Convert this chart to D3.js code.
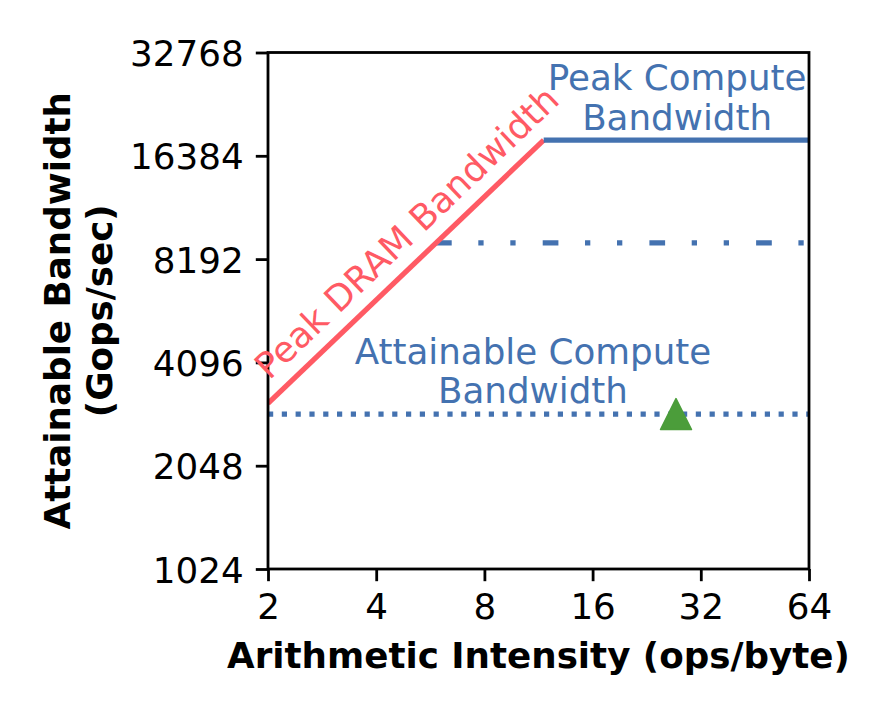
<!DOCTYPE html>
<html>
<head>
<meta charset="utf-8">
<script src="https://cdn.jsdelivr.net/npm/d3@7"></script>
<style>
  body { margin: 0; background: #fff; }
  svg { display: block; font-family: "DejaVu Sans", sans-serif; }
</style>
</head>
<body>
<svg id="chart"></svg>
<script>
// roofline values
const xTicks = [2, 4, 8, 16, 32, 64];
const yTicks = [1024, 2048, 4096, 8192, 16384, 32768];
const dramBandwidth = 1556;       // Gops/sec per (ops/byte)
const peakCompute = 18200;        // Gops/sec
const midCompute = 9130;          // dash-dot level
const attainableCompute = 2896;   // dotted level
const kernelPoint = [27.3, 2896]; // green triangle

const W = 871, H = 718;
const margin = { top: 52.5, right: 62, bottom: 149, left: 268 };
const FS = 35.7;
const red = "#ff5a64", blue = "#4472b0", green = "#4b9d3a";

const svg = d3.select("#chart").attr("width", W).attr("height", H);

const x = d3.scaleLog().base(2).domain([2, 64]).range([margin.left, W - margin.right]);
const y = d3.scaleLog().base(2).domain([1024, 32768]).range([H - margin.bottom, margin.top]);

svg.append("clipPath").attr("id", "plot-clip")
  .append("rect")
  .attr("x", x(2)).attr("y", y(32768))
  .attr("width", x(64) - x(2)).attr("height", y(1024) - y(32768));

const plot = svg.append("g").attr("clip-path", "url(#plot-clip)");
const line = d3.line().x(d => x(d[0])).y(d => y(d[1]));

const ridge = peakCompute / dramBandwidth;

// dotted attainable compute
plot.append("path")
  .attr("d", line([[2, attainableCompute], [64, attainableCompute]]))
  .attr("fill", "none").attr("stroke", blue).attr("stroke-width", 5.2)
  .attr("stroke-dasharray", "5.2 8.6");

// dash-dot-dot level, starting where the DRAM roof reaches it
plot.append("path")
  .attr("d", line([[midCompute / dramBandwidth, midCompute], [64, midCompute]]))
  .attr("fill", "none").attr("stroke", blue).attr("stroke-width", 5.2)
  .attr("stroke-dasharray", "15.7 26.6 5.3 26.7 5.3 27.1");

// DRAM roof
plot.append("path")
  .attr("d", line([[2, 2 * dramBandwidth], [ridge, peakCompute]]))
  .attr("fill", "none").attr("stroke", red).attr("stroke-width", 5.2);

// compute roof
plot.append("path")
  .attr("d", line([[ridge, peakCompute], [64, peakCompute]]))
  .attr("fill", "none").attr("stroke", blue).attr("stroke-width", 5.2);

// kernel marker
const tri = 15.5;
svg.append("path")
  .attr("transform", `translate(${x(kernelPoint[0])},${y(kernelPoint[1])})`)
  .attr("d", `M0,${-tri}L${tri},${tri}L${-tri},${tri}Z`)
  .attr("fill", green).attr("stroke", green).attr("stroke-width", 1.5)
  .attr("stroke-linejoin", "round");

// axes
const yAxis = d3.axisLeft(y).tickValues(yTicks).tickFormat(d3.format("d"))
  .tickSize(12.2).tickSizeOuter(0).tickPadding(12.2);
const xAxis = d3.axisBottom(x).tickValues(xTicks).tickFormat(d3.format("d"))
  .tickSize(12.2).tickSizeOuter(0).tickPadding(12.2);

const gy = svg.append("g").attr("transform", `translate(${margin.left},0)`).call(yAxis);
const gx = svg.append("g").attr("transform", `translate(0,${H - margin.bottom})`).call(xAxis);

[gx, gy].forEach(g => {
  g.select(".domain").remove();
  g.selectAll(".tick line").attr("stroke", "#000").attr("stroke-width", 2.8);
  g.selectAll(".tick text").attr("fill", "#000")
    .style("font-size", FS + "px").style("font-family", "DejaVu Sans");
});
gy.selectAll(".tick text").attr("dy", "0.365em");
gx.selectAll(".tick text").attr("dy", "0.73em");

// spines
svg.append("rect")
  .attr("x", x(2)).attr("y", y(32768))
  .attr("width", x(64) - x(2)).attr("height", y(1024) - y(32768))
  .attr("fill", "none").attr("stroke", "#000").attr("stroke-width", 2.8);

// axis titles
svg.append("text")
  .attr("x", (x(2) + x(64)) / 2).attr("y", 668)
  .attr("text-anchor", "middle").style("font-size", FS + "px").style("font-weight", "bold")
  .text("Arithmetic Intensity (ops/byte)");

const yMid = (y(1024) + y(32768)) / 2;
const yTitle = svg.append("text")
  .attr("transform", `translate(70,${yMid}) rotate(-90)`)
  .attr("text-anchor", "middle").style("font-size", FS + "px").style("font-weight", "bold");
yTitle.append("tspan").attr("x", 0).attr("y", 0).text("Attainable Bandwidth");
yTitle.append("tspan").attr("x", 0).attr("y", 42).text("(Gops/sec)");

// annotations
const angle = Math.atan2(y(2 * dramBandwidth) - y(peakCompute), x(ridge) - x(2)) * 180 / Math.PI;
const lx = 5.5, ly = lx * dramBandwidth, off = 29;
const rad = angle * Math.PI / 180;
const cx = x(lx) - Math.sin(rad) * off, cy = y(ly) - Math.cos(rad) * off;
svg.append("text")
  .attr("transform", `translate(${cx},${cy}) rotate(${-angle})`)
  .attr("text-anchor", "middle").attr("dy", "0.38em")
  .attr("fill", red).style("font-size", FS + "px")
  .text("Peak DRAM Bandwidth");

function twoLine(xv, yv, lines, d1, d2) {
  const t = svg.append("text").attr("text-anchor", "middle")
    .attr("fill", blue).style("font-size", FS + "px");
  t.append("tspan").attr("x", x(xv)).attr("y", y(yv) + d1).text(lines[0]);
  t.append("tspan").attr("x", x(xv)).attr("y", y(yv) + d2).text(lines[1]);
}
twoLine(27.5, peakCompute, ["Peak Compute", "Bandwidth"], -50, -10.5);
twoLine(10.92, attainableCompute, ["Attainable Compute", "Bandwidth"], -50, -11);
</script>
</body>
</html>
